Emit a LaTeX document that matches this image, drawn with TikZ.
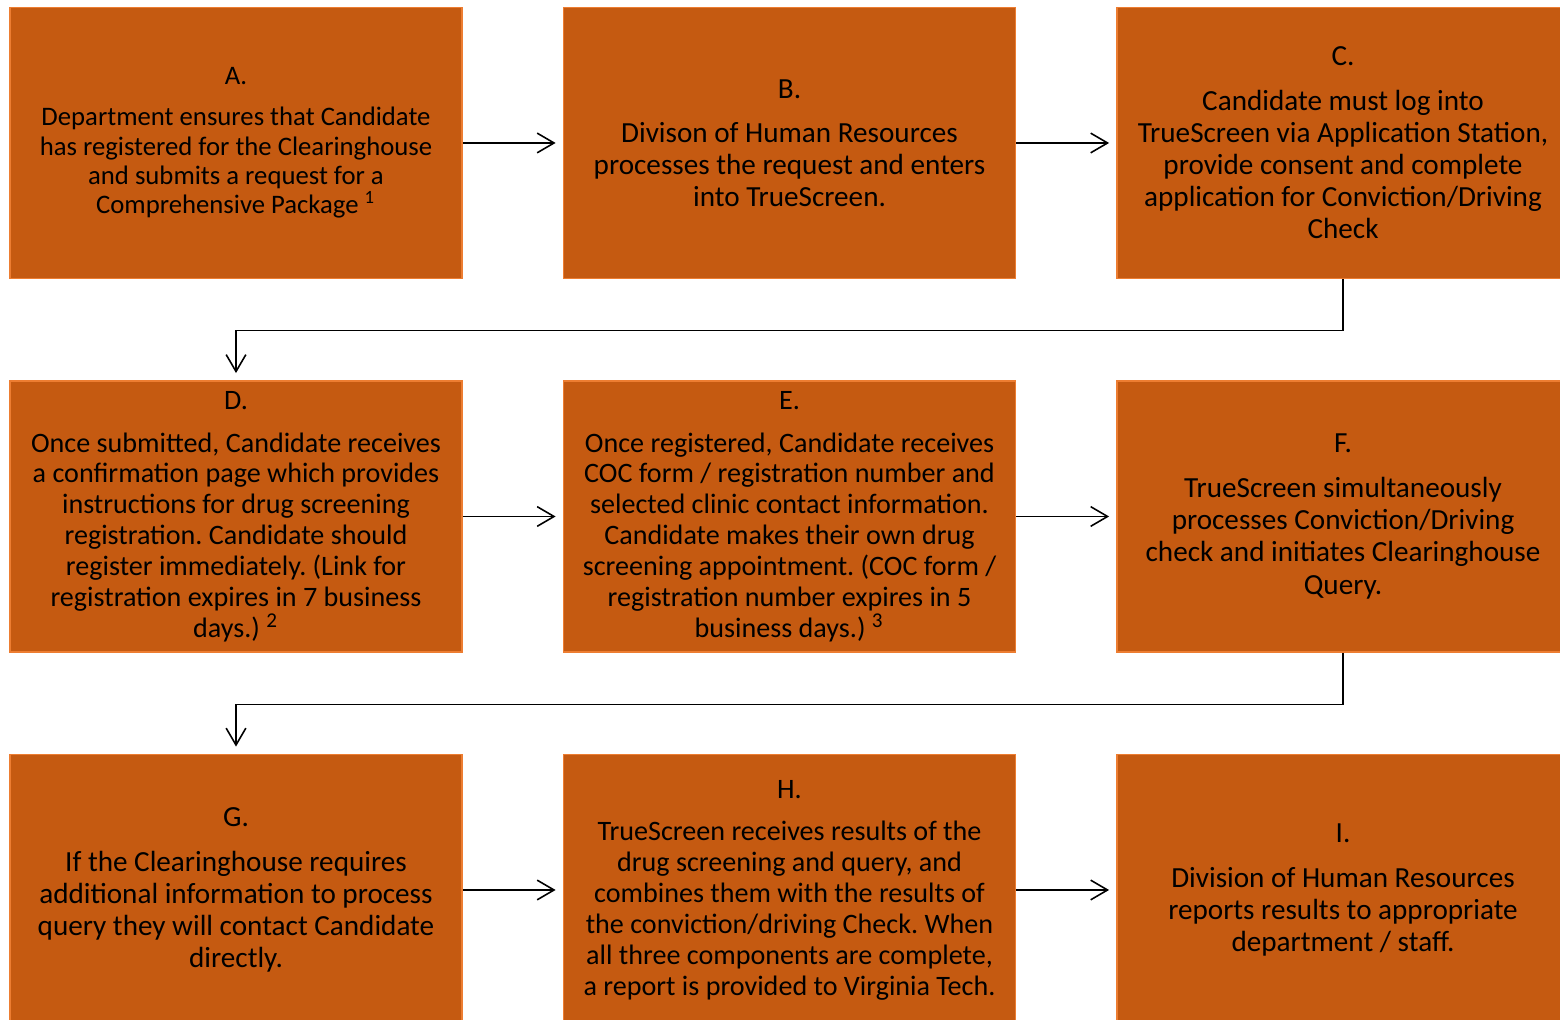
\documentclass[tikz,border=0pt]{standalone}
\usepackage{fontspec}
\setmainfont{Carlito}
\frenchspacing
\usetikzlibrary{arrows.meta,positioning}

\definecolor{stagefill}{HTML}{C55A11}
\definecolor{stageedge}{HTML}{ED7D31}

\newcommand{\stagesmall}{\fontsize{7.6pt}{8.34pt}\selectfont}
\newcommand{\stagemid}{\fontsize{8.0pt}{8.78pt}\selectfont}
\newcommand{\stagebig}{\fontsize{8.3pt}{9.15pt}\selectfont}

\tikzset{
  stage/.style={draw=stageedge, line width=0.5pt, fill=stagefill,
    minimum width=4.52cm, minimum height=2.71cm, inner sep=0pt,
    align=center, text=black, font=\stagebig},
  flow/.style={line width=0.45pt, black,
    -{Straight Barb[length=4.8pt,width=5.6pt]}, shorten >=2pt}
}

\begin{document}
\begin{tikzpicture}
\useasboundingbox (0,0) rectangle (15.6,10.2);
\clip (0,0) rectangle (15.6,10.2);

% first row
\node[stage, font=\stagesmall] (A) at (2.36,8.77) {A.\\[3.3pt]
  Department ensures that Candidate\\
  has registered for the Clearinghouse\\
  and submits a request for a\\
  Comprehensive Package \textsuperscript{1}};
\node[stage] (B) at (7.895,8.77) {B.\\[3.4pt]
  Divison of Human Resources\\
  processes the request and enters\\
  into TrueScreen.};
\node[stage] (C) at (13.43,8.77) {C.\\[3.4pt]
  Candidate must log into\\
  TrueScreen via Application Station,\\
  provide consent and complete\\
  application for Conviction/Driving\\
  Check};

% second row
\node[stage, font=\stagemid] (D) at (2.36,5.035) {D.\\[3.4pt]
  Once submitted, Candidate receives\\
  a confirmation page which provides\\
  instructions for drug screening\\
  registration. Candidate should\\
  register immediately. (Link for\\
  registration expires in 7 business\\
  days.) \textsuperscript{2}};
\node[stage, font=\stagemid] (E) at (7.895,5.035) {E.\\[3.4pt]
  Once registered, Candidate receives\\
  COC form / registration number and\\
  selected clinic contact information.\\
  Candidate makes their own drug\\
  screening appointment. (COC form /\\
  registration number expires in 5\\
  business days.) \textsuperscript{3}};
\node[stage] (F) at (13.43,5.035) {F.\\[3.6pt]
  TrueScreen simultaneously\\
  processes Conviction/Driving\\
  check and initiates Clearinghouse\\
  Query.};

% third row
\node[stage] (G) at (2.36,1.3) {G.\\[3.6pt]
  If the Clearinghouse requires\\
  additional information to process\\
  query they will contact Candidate\\
  directly.};
\node[stage, font=\stagemid] (H) at (7.895,1.3) {H.\\[3.4pt]
  TrueScreen receives results of the\\
  drug screening and query, and\\
  combines them with the results of\\
  the conviction/driving Check. When\\
  all three components are complete,\\
  a report is provided to Virginia Tech.};
\node[stage] (I) at (13.43,1.3) {I.\\[3.6pt]
  Division of Human Resources\\
  reports results to appropriate\\
  department / staff.};

% connectors
\draw[flow] (A) -- (B);
\draw[flow] (B) -- (C);
\draw[flow] (C.south) -- ++(0,-0.51) -| (D.north);
\draw[flow] (D) -- (E);
\draw[flow] (E) -- (F);
\draw[flow] (F.south) -- ++(0,-0.515) -| (G.north);
\draw[flow] (G) -- (H);
\draw[flow] (H) -- (I);
\end{tikzpicture}
\end{document}
